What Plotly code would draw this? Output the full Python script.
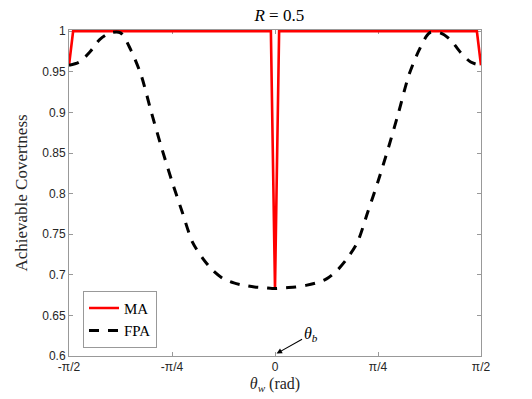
import numpy as np
import plotly.graph_objects as go

PI = np.pi

# FPA curve: theta in units of pi, covertness values
fpa_theta_over_pi = [-0.5, -0.475, -0.45, -0.425, -0.4, -0.375, -0.35, -0.325, -0.3, -0.275,
                     -0.25, -0.225, -0.2, -0.175, -0.15, -0.125, -0.1, -0.075, -0.05, -0.025,
                     0.0,
                     0.025, 0.05, 0.075, 0.1, 0.125, 0.15, 0.175, 0.2, 0.225,
                     0.25, 0.275, 0.3, 0.325, 0.35, 0.375, 0.4, 0.425, 0.45, 0.475, 0.5]
fpa_values = [0.958, 0.962, 0.974, 0.990, 0.998, 0.998, 0.977, 0.946, 0.900, 0.856,
              0.815, 0.777, 0.740, 0.720, 0.705, 0.695, 0.690, 0.687, 0.685, 0.684,
              0.683,
              0.684, 0.685, 0.687, 0.690, 0.695, 0.705, 0.720, 0.740, 0.777,
              0.815, 0.856, 0.900, 0.946, 0.977, 0.998, 0.998, 0.990, 0.974, 0.962, 0.958]

# MA curve: break points (theta in units of pi)
ma_theta_over_pi = [-0.5, -0.49, -0.01, 0.0, 0.01, 0.49, 0.5]
ma_values = [0.958, 1.0, 1.0, 0.683, 1.0, 1.0, 0.958]

x_tick_vals_over_pi = [-0.5, -0.25, 0.0, 0.25, 0.5]
x_tick_text = ["-\u03c0/2", "-\u03c0/4", "0", "\u03c0/4", "\u03c0/2"]
y_tick_vals = [0.6, 0.65, 0.7, 0.75, 0.8, 0.85, 0.9, 0.95, 1.0]
y_tick_text = ["0.6", "0.65", "0.7", "0.75", "0.8", "0.85", "0.9", "0.95", "1"]

SERIF = "Liberation Serif, Times New Roman, serif"
SANS = "Liberation Sans, Arial, sans-serif"

fig = go.Figure()
fig.add_trace(go.Scatter(
    x=[t * PI for t in ma_theta_over_pi], y=ma_values, mode="lines", name="MA",
    line=dict(color="#ff0000", width=2.6)))
fig.add_trace(go.Scatter(
    x=[t * PI for t in fpa_theta_over_pi], y=fpa_values, mode="lines", name="FPA",
    line=dict(color="#000000", width=3, dash="10px,9px", shape="spline", smoothing=0.8)))

fig.add_annotation(
    x=0.012, y=0.603, xref="x", yref="y",
    text="<i>\u03b8</i><sub><i>b</i></sub>", showarrow=True,
    ax=34, ay=-19, arrowhead=2, arrowsize=1, arrowwidth=1.1, arrowcolor="#000000",
    font=dict(family=SERIF, size=16, color="#000000"))

fig.update_layout(
    width=532, height=399,
    margin=dict(l=69, r=51, t=30, b=43),
    paper_bgcolor="white", plot_bgcolor="white",
    title=dict(text="<i>R</i> = 0.5", x=0.525, xanchor="center", y=0.963, yanchor="middle",
               font=dict(family=SERIF, size=17, color="#000000")),
    xaxis=dict(
        range=[-PI / 2, PI / 2], tickvals=[t * PI for t in x_tick_vals_over_pi], ticktext=x_tick_text,
        showgrid=False, zeroline=False, showline=True, linecolor="#999999", linewidth=1,
        mirror="ticks", ticks="inside", ticklen=4, tickcolor="#999999", layer="below traces",
        automargin=False,
        tickfont=dict(family=SANS, size=12, color="#262626"),
        title=dict(text="<i>\u03b8</i><sub><i>w</i></sub> (rad)", standoff=4,
                   font=dict(family=SERIF, size=16, color="#262626"))),
    yaxis=dict(
        range=[0.6, 1.0015], tickvals=y_tick_vals, ticktext=y_tick_text,
        showgrid=False, zeroline=False, showline=True, linecolor="#999999", linewidth=1,
        mirror="ticks", ticks="inside", ticklen=4, tickcolor="#999999", layer="below traces",
        automargin=False,
        tickfont=dict(family=SANS, size=12, color="#262626"),
        title=dict(text="Achievable Covertness", standoff=10,
                   font=dict(family=SERIF, size=17, color="#262626"))),
    legend=dict(x=0.034, y=0.2, xanchor="left", yanchor="top",
                bgcolor="white", bordercolor="#999999", borderwidth=1,
                font=dict(family=SERIF, size=15, color="#000000"),
                tracegroupgap=0, itemwidth=30),
    showlegend=True,
)

fig.write_html("out.html", config={"displayModeBar": False},
               post_script="document.body.style.margin='0';")
